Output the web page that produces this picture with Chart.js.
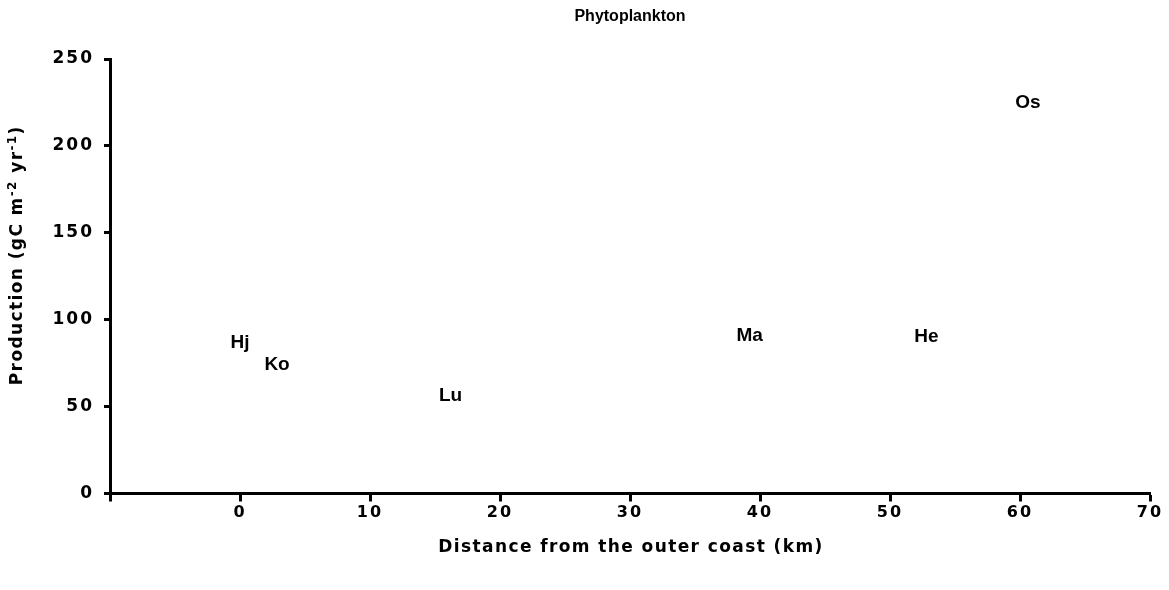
<!DOCTYPE html>
<html>
<head>
<meta charset="utf-8">
<script src="https://cdn.jsdelivr.net/npm/chart.js@4/dist/chart.umd.min.js"></script>
<style>
  html, body { margin: 0; padding: 0; background: #fff; }
  #wrap { width: 1169px; height: 590px; }
</style>
</head>
<body>
<div id="wrap"><canvas id="myChart" width="1169" height="590"></canvas></div>
<script>
// station labels and their position (distance, production)
var stations = ["Hj", "Ko", "Lu", "Ma", "He", "Os"];
var distance = [0, 2.85, 16.2, 39.2, 52.8, 60.6];
var production = [87, 74, 56, 91, 90, 225];

var xTicks = [-10, 0, 10, 20, 30, 40, 50, 60, 70];
var yTicks = [0, 50, 100, 150, 200, 250];

var FONT = "'DejaVu Sans', 'Liberation Sans', Arial, sans-serif";
var LABEL_FONT = "'Liberation Sans', Arial, Helvetica, sans-serif";

// y title pieces, superscripts flagged
var yTitleParts = [
  { t: "Production (gC m", sup: false },
  { t: "-2", sup: true },
  { t: " yr", sup: false },
  { t: "-1", sup: true },
  { t: ")", sup: false }
];

// the axis text in the original is spread out a bit
var spacing = {
  id: "spacing",
  beforeDraw: function (chart) {
    chart.ctx.letterSpacing = "2px";
  }
};

// writes the station names where the (hidden) points are
var stationLabels = {
  id: "stationLabels",
  afterDatasetsDraw: function (chart) {
    var ctx = chart.ctx;
    var meta = chart.getDatasetMeta(0);
    ctx.save();
    ctx.letterSpacing = "0px";
    ctx.font = "bold 19px " + LABEL_FONT;
    ctx.fillStyle = "#000";
    ctx.textAlign = "center";
    ctx.textBaseline = "middle";
    meta.data.forEach(function (pt, i) {
      ctx.fillText(stations[i], pt.x, pt.y);
    });
    ctx.restore();
  }
};

// chart title, x title and y title (with real superscripts)
var titles = {
  id: "titles",
  afterDraw: function (chart) {
    var ctx = chart.ctx;
    var area = chart.chartArea;
    ctx.save();
    ctx.letterSpacing = "0px";
    ctx.font = "bold 16px " + LABEL_FONT;
    ctx.fillStyle = "#000";
    ctx.textAlign = "center";
    ctx.textBaseline = "middle";
    ctx.fillText("Phytoplankton", (area.left + area.right) / 2, 17);

    ctx.letterSpacing = "1.4px";
    ctx.font = "bold 17px " + FONT;
    ctx.fillText("Distance from the outer coast (km)", (area.left + area.right) / 2 + 1, 548);
    ctx.restore();

    ctx.save();
    ctx.fillStyle = "#000";
    ctx.letterSpacing = "1.4px";
    ctx.textAlign = "left";
    ctx.textBaseline = "middle";
    var big = "bold 17px " + FONT, small = "bold 12px " + FONT;
    var total = 0;
    yTitleParts.forEach(function (p) {
      ctx.font = p.sup ? small : big;
      p.w = ctx.measureText(p.t).width;
      total += p.w;
    });
    ctx.translate(18, (area.top + area.bottom) / 2 - 21);
    ctx.rotate(-Math.PI / 2);
    var x = -total / 2;
    yTitleParts.forEach(function (p) {
      ctx.font = p.sup ? small : big;
      ctx.fillText(p.t, x, p.sup ? -5 : 0);
      x += p.w;
    });
    ctx.restore();
  }
};

document.addEventListener("DOMContentLoaded", function () {
  var ctx = document.getElementById("myChart").getContext("2d");
  var myChart = new Chart(ctx, {
    type: "scatter",
    data: {
      datasets: [
        {
          label: "Phytoplankton",
          data: distance.map(function (d, i) { return { x: d, y: production[i] }; }),
          pointRadius: 0,
          pointHoverRadius: 0,
          backgroundColor: "transparent",
          borderColor: "transparent"
        }
      ]
    },
    options: {
      responsive: false,
      animation: false,
      events: [],
      layout: { padding: { top: 59, right: 19, bottom: 0, left: 0 } },
      plugins: {
        legend: { display: false },
        tooltip: { enabled: false }
      },
      scales: {
        x: {
          type: "linear",
          min: -10,
          max: 70,
          afterBuildTicks: function (axis) {
            axis.ticks = xTicks.map(function (v) { return { value: v }; });
          },
          afterFit: function (axis) { axis.height = 96.5; },
          ticks: {
            color: "#000",
            font: { family: FONT, size: 16, weight: "bold" },
            padding: 2,
            maxRotation: 0,
            callback: function (v) { return v < 0 ? "" : v; }
          },
          grid: {
            drawOnChartArea: false,
            tickLength: 8,
            tickWidth: 3,
            tickColor: "#000"
          },
          border: { display: true, color: "#000", width: 3 },
          title: { display: false }
        },
        y: {
          type: "linear",
          min: 0,
          max: 250,
          afterBuildTicks: function (axis) {
            axis.ticks = yTicks.map(function (v) { return { value: v }; });
          },
          afterFit: function (axis) { axis.width = 110; },
          ticks: {
            color: "#000",
            font: { family: FONT, size: 17, weight: "bold" },
            padding: 10
          },
          grid: {
            drawOnChartArea: false,
            tickLength: 6,
            tickWidth: 3,
            tickColor: "#000"
          },
          border: { display: true, color: "#000", width: 3 },
          title: { display: false }
        }
      }
    },
    plugins: [spacing, stationLabels, titles]
  });
});
</script>
</body>
</html>
